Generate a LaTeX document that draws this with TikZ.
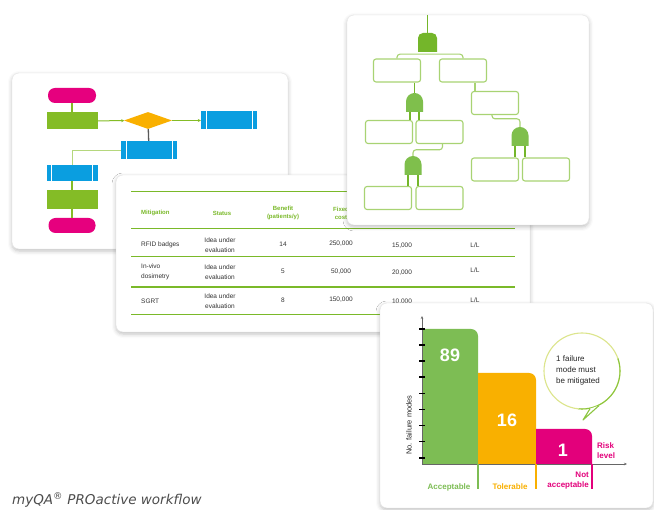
\documentclass[tikz,border=0pt]{standalone}
\usepackage{fontspec}
\setmainfont{Liberation Sans}
\newfontfamily\capfont{DejaVu Sans}
\usepackage{xcolor}
\usepackage{tikz}
\usetikzlibrary{shapes.geometric,arrows.meta,shadows.blur}

\definecolor{fcmagenta}{HTML}{E6007E}
\definecolor{fcgreen}{HTML}{84BC26}
\definecolor{fcorange}{HTML}{F9B000}
\definecolor{fcblue}{HTML}{0A9EE0}
\definecolor{ftlinecol}{HTML}{A8D373}
\definecolor{ftgatecol}{HTML}{7FBF4C}
\definecolor{ftgatedark}{HTML}{74B62A}
\definecolor{tabgreen}{HTML}{7AB929}
\definecolor{bargreen}{HTML}{7DBD54}
\definecolor{barorange}{HTML}{F9B000}
\definecolor{barmagenta}{HTML}{E3007B}
\definecolor{bubyellow}{HTML}{DCE58C}
\definecolor{bubgreen}{HTML}{8CC63F}

\begin{document}
\begin{tikzpicture}[x=1pt,y=-1pt,
    card/.style={fill=white,draw=black!10,rounded corners=7pt,inner sep=0pt,
        blur shadow={shadow blur radius=4pt,shadow xshift=0pt,shadow yshift=-2pt,shadow opacity=25}},
    pill/.style={fill=fcmagenta,rounded corners=7pt,minimum width=48pt,minimum height=15pt,inner sep=0pt},
    fcbox/.style={fill=fcgreen,minimum width=51pt,minimum height=17pt,inner sep=0pt},
    decision/.style={diamond,fill=fcorange,aspect=2.8,minimum width=48pt,minimum height=17pt,inner sep=0pt},
    process/.style={fill=fcblue,minimum width=56pt,minimum height=18pt,inner sep=0pt,
        path picture={
            \draw[white,line width=0.6pt] ([xshift=5pt]path picture bounding box.north west) -- ([xshift=5pt]path picture bounding box.south west);
            \draw[white,line width=0.6pt] ([xshift=-5pt]path picture bounding box.north east) -- ([xshift=-5pt]path picture bounding box.south east);}},
    fcline/.style={fcgreen,line width=1.2pt},
    fcarrow/.style={fcgreen,line width=1pt,-{Stealth[length=3pt,width=3pt]}},
    ftbox/.style={draw=ftlinecol,line width=1.1pt,fill=white,rounded corners=2.5pt,minimum width=47pt,minimum height=23pt,inner sep=0pt},
    gatenode/.style={minimum width=17pt,minimum height=19pt,inner sep=0pt,
        path picture={\fill[ftgatecol] (path picture bounding box.south west) -- ++(0,-10.5)
            arc[start angle=180,end angle=360,radius=8.5] -- (path picture bounding box.south east) -- cycle;}},
    topgate/.style={minimum width=19pt,minimum height=19pt,inner sep=0pt,
        path picture={\fill[ftgatedark] (path picture bounding box.south west) -- ++(0,-14)
            arc[start angle=180,end angle=270,radius=5] -- ++(9,0)
            arc[start angle=270,end angle=360,radius=5] -- (path picture bounding box.south east) -- cycle;}},
    ftlink/.style={ftlinecol,line width=1.1pt},
    ftleg/.style={ftgatedark,line width=1.3pt},
    tabrule/.style={tabgreen,line width=1pt},
    tabhead/.style={text=tabgreen,font=\bfseries\fontsize{6}{8}\selectfont,align=center,inner sep=0pt},
    tabcell/.style={text=black!80,font=\fontsize{6.5}{9.5}\selectfont,align=center,inner sep=0pt},
    barnum/.style={text=white,font=\bfseries\fontsize{18}{20}\selectfont,inner sep=0pt},
    risklab/.style={font=\bfseries\fontsize{8}{9.5}\selectfont,inner sep=0pt},
    tick/.style={black,line width=1.6pt}]

    \useasboundingbox (0,0) rectangle (654,510);

    % cards
    \node[card,minimum width=276pt,minimum height=176pt] (fccard) at (150,161) {};
    \node[card,minimum width=414pt,minimum height=157pt] (tabcard) at (323,253.5) {};

    % Flowchart
    \node[pill] (fcstart) at (72,95.5) {};
    \node[fcbox] (fcstep) at (72,121) {};
    \node[decision] (fcdec) at (148,120.5) {};
    \node[process] (fcproc1) at (229,120.5) {};
    \node[process] (fcproc2) at (149,150) {};
    \node[process,minimum width=51pt,minimum height=16pt] (fcproc3) at (72,173) {};
    \node[fcbox,minimum height=19pt] (fcstep2) at (72,199.5) {};
    \node[pill,minimum width=47pt] (fcend) at (72,225.5) {};
    \draw[fcline] (fcstart) -- (fcstep);
    \draw[fcarrow] (fcstep) -- (fcdec);
    \draw[fcarrow] (fcdec) -- (fcproc1);
    \draw[black!65,line width=1.3pt] (fcdec) -- (fcproc2);
    \draw[fcgreen!60,line width=0.8pt] (fcproc2.west) -| (fcproc3.north);
    \draw[fcline] (fcproc3) -- (fcstep2);
    \draw[fcline] (fcstep2) -- (fcend);

    % Table
    \draw[tabrule] (131,192) -- (515,192);
    \draw[tabrule] (131,229) -- (515,229);
    \draw[tabrule] (131,257) -- (515,257);
    \draw[tabrule,line width=1.6pt] (131,287) -- (515,287);
    \draw[tabrule] (131,315) -- (515,315);
    \node[tabhead,anchor=west] (hmit) at (141,213) {Mitigation};
    \node[tabhead] (hstat) at (222,213) {Status};
    \node[tabhead] (hben) at (283,213) {Benefit\\(patients/y)};
    \node[tabhead] (hcost) at (341,213) {Fixed\\cost};
    \node[tabcell,anchor=west] (m1) at (141,245) {RFID badges};
    \node[tabcell,align=left,anchor=west] (m2) at (141,272) {In-vivo\\dosimetry};
    \node[tabcell,anchor=west] (m3) at (141,301) {SGRT};
    \foreach \r/\yy in {1/245,2/272,3/301}
        \node[tabcell] (s\r) at (220,\yy) {Idea under\\evaluation};
    \node[tabcell] (b1v) at (283,244) {14};
    \node[tabcell] (b2v) at (283,271) {5};
    \node[tabcell] (b3v) at (283,300) {8};
    \node[tabcell] (c1v) at (341,244) {250,000};
    \node[tabcell] (c2v) at (341,272) {50,000};
    \node[tabcell] (c3v) at (341,300) {150,000};
    \node[tabcell] (d1v) at (402,246) {15,000};
    \node[tabcell] (d2v) at (402,273) {20,000};
    \node[tabcell] (d3v) at (402,302) {10,000};
    \node[tabcell] (e1v) at (475,245) {L/L};
    \node[tabcell] (e2v) at (475,270) {L/L};
    \node[tabcell] (e3v) at (475,300) {L/L};

    % Fault tree
    \node[card,minimum width=242pt,minimum height=210pt] (ftcard) at (468,120) {};
    \node[topgate] (g1) at (427.5,42.5) {};
    \node[gatenode] (g2) at (414.5,102.5) {};
    \node[gatenode] (g3) at (413,165.5) {};
    \node[gatenode] (g4) at (520,136.5) {};
    \node[ftbox] (b1) at (397,70.5) {};
    \node[ftbox] (b2) at (463,70.5) {};
    \node[ftbox] (b3) at (495,103) {};
    \node[ftbox] (b4) at (389,132) {};
    \node[ftbox] (b5) at (439.5,132) {};
    \node[ftbox] (b6) at (495,169.5) {};
    \node[ftbox] (b7) at (546,169.5) {};
    \node[ftbox] (b8) at (388,198) {};
    \node[ftbox] (b9) at (439.5,198) {};
    \draw[ftleg] (g1.north |- ftcard.north) -- (g1.north);
    \draw[ftlink,rounded corners=3pt] (b1.north) |- ([yshift=-2pt]g1.south) -| (b2.north);
    \draw[ftleg] (g2.north |- b1.south) -- (g2.north);
    \draw[ftleg] ([xshift=-4.5pt]g2.south) -- ([xshift=-4.5pt]g2.south |- b4.north);
    \draw[ftleg] ([xshift=4.5pt]g2.south) -- ([xshift=4.5pt]g2.south |- b5.north);
    \draw[ftlink] ([xshift=-20pt]b3.north) -- ([xshift=-20pt]b3.north |- b2.south);
    \draw[ftlink,rounded corners=3pt] ([xshift=-3pt]b3.south) |- ([yshift=8pt]g4.north) -- (g4.north);
    \draw[ftleg] ([xshift=-5pt]g4.south) -- ([xshift=-5pt]g4.south |- b6.north);
    \draw[ftleg] ([xshift=5pt]g4.south) -- ([xshift=5pt]g4.south |- b7.north);
    \draw[ftlink,rounded corners=3pt] ([xshift=3pt]b5.south) |- ([yshift=6pt]g3.north) -- (g3.north);
    \draw[ftleg] ([xshift=-5pt]g3.south) -- ([xshift=-5pt]g3.south |- b8.north);
    \draw[ftleg] ([xshift=5pt]g3.south) -- ([xshift=5pt]g3.south |- b9.north);

    % Risk chart
    \node[card,minimum width=273pt,minimum height=205pt] (chcard) at (516.5,405.5) {};
    \coordinate (origin) at (422,464);
    \fill[bargreen] (origin) -- (422,329) -- (471,329) arc[start angle=270,end angle=360,radius=7] -- (478,464) -- cycle;
    \fill[barorange] (478,464) -- (478,373) -- (529,373) arc[start angle=270,end angle=360,radius=7] -- (536,464) -- cycle;
    \fill[barmagenta] (536,464) -- (536,429) -- (585,429) arc[start angle=270,end angle=360,radius=7] -- (592,464) -- cycle;
    \draw[black!60,line width=0.8pt,-{Stealth[length=3pt,width=2.5pt]}] (origin) -- (422,316);
    \draw[black!60,line width=0.8pt,-{Stealth[length=3pt,width=2.5pt]}] (origin) -- (627,464);
    \foreach \t in {0,...,8}
        \draw[tick] (419,{329+16.1*\t}) -- (425,{329+16.1*\t});
    \draw[bargreen,line width=1.2pt] (478,464) -- (478,489);
    \draw[barorange,line width=1.2pt] (536,464) -- (536,489);
    \draw[barmagenta,line width=1.2pt] (592,464) -- (592,489);
    \node[barnum] (n89) at (450,355) {89};
    \node[barnum] (n16) at (507,420) {16};
    \node[barnum] (n1) at (563,450) {1};
    \node[font=\fontsize{7.5}{9}\selectfont,text=black!85,rotate=90,inner sep=0pt] (ylab) at (409,425) {No. failure modes};
    \node[risklab,text=bargreen] (lacc) at (449,487) {Acceptable};
    \node[risklab,text=barorange] (ltol) at (510,487) {Tolerable};
    \node[risklab,text=barmagenta,align=right,anchor=east] (lnot) at (589,480.5) {Not\\acceptable};
    \node[risklab,text=barmagenta,align=left,anchor=west] (lrisk) at (597,450.5) {Risk\\level};

    % speech bubble
    \node[circle,draw=bubyellow,line width=1.1pt,minimum size=76pt,inner sep=0pt] (bubble) at (582,371) {};
    \begin{scope}
        \clip (570,420) -- (640,330) -- (640,440) -- cycle;
        \draw[bubgreen,line width=1.1pt] (bubble.center) circle[radius=38];
    \end{scope}
    \coordinate (bubtip) at (583,420);
    \fill[white] (bubble.282) -- (bubtip) -- (bubble.296) -- cycle;
    \draw[bubgreen,line width=1.1pt,line join=round] (bubble.282) -- (bubtip) -- (bubble.296);
    \node[font=\fontsize{8}{11}\selectfont,text=black!85,align=left,anchor=west,inner sep=0pt] (bubtxt) at (556,370) {1 failure\\mode must\\be mitigated};

    % caption
    \node[anchor=base west,inner sep=0pt,text=black!70,font=\capfont\itshape\fontsize{13.5}{15}\selectfont] (caption) at (12,505) {myQA\textsuperscript{®} PROactive workflow};
\end{tikzpicture}
\end{document}
